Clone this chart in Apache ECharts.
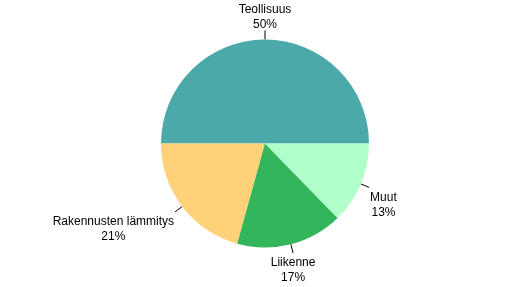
<!DOCTYPE html>
<html>
<head>
<meta charset="utf-8">
<script src="https://cdn.jsdelivr.net/npm/echarts@6/dist/echarts.min.js"></script>
<style>html,body{margin:0;padding:0;background:#fff}#c{width:530px;height:287px}</style>
</head>
<body>
<div id="c"></div>
<script>
const categories = ['Teollisuus', 'Rakennusten lämmitys', 'Liikenne', 'Muut'];
const shares = [50, 20.7, 16.6, 12.7];
const colors = ['#4BA9A9', '#FFD27A', '#33B55B', '#B0FFCA'];

const chart = echarts.init(document.getElementById('c'), null, {renderer: 'canvas'});
chart.setOption({
  animation: false,
  series: [{
    type: 'pie',
    center: [265, 143.5],
    radius: [0, 104],
    startAngle: 0,
    clockwise: false,
    avoidLabelOverlap: false,
    itemStyle: {borderWidth: 0},
    emphasis: {disabled: true},
    label: {
      show: true,
      position: 'outside',
      fontFamily: 'Liberation Sans, Arial, sans-serif',
      fontSize: 12,
      lineHeight: 15,
      color: '#000',
      align: 'center',
      formatter: p => p.name + '\n' + Math.round(p.percent) + '%'
    },
    labelLine: {show: true, length: 9, length2: 0, smooth: false, lineStyle: {color: '#000', width: 1}},
    labelLayout: function (params) {
      const pts = params.labelLinePoints;
      if (!pts) return {};
      const a = pts[0], b = pts[pts.length - 1];
      let dx = b[0] - a[0], dy = b[1] - a[1];
      const len = Math.sqrt(dx * dx + dy * dy) || 1;
      dx /= len; dy /= len;
      const hw = params.labelRect.width / 2, hh = params.labelRect.height / 2;
      const ox = Math.abs(dx) < 0.3 ? 0 : Math.sign(dx) * (hw + 1);
      const oy = Math.abs(dy) < 0.3 ? 0 : (dy > 0 ? hh + 2.5 : -(hh - 2));
      return {x: b[0] + ox, y: b[1] + oy, align: 'center', verticalAlign: 'middle', labelLinePoints: pts};
    },
    data: categories.map((n, i) => ({name: n, value: shares[i], itemStyle: {color: colors[i]}}))
  }]
});
</script>
</body>
</html>
